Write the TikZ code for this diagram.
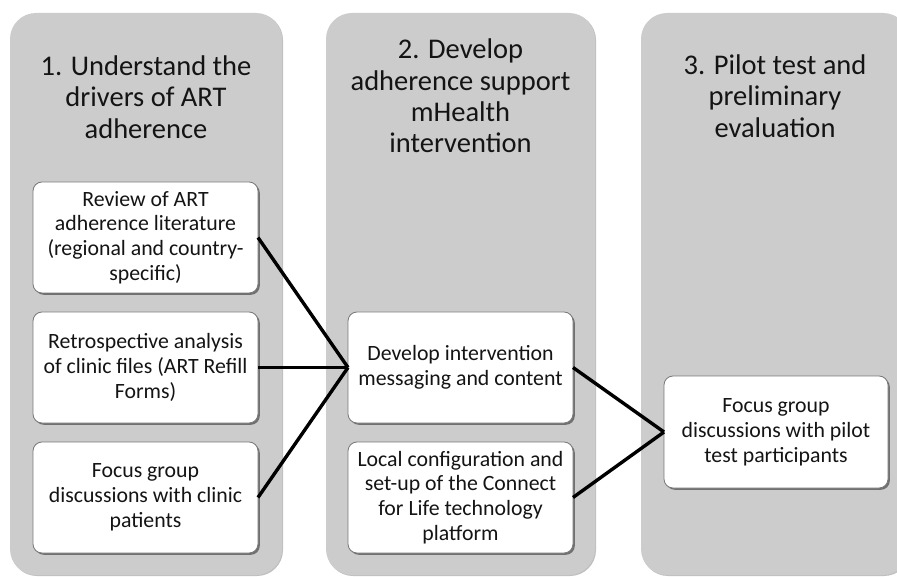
\documentclass[tikz,border=0pt]{standalone}
\usepackage{fontspec}
\setmainfont{Carlito}
\usetikzlibrary{shadows}
\definecolor{colgray}{RGB}{204,204,204}
\definecolor{boxline}{RGB}{120,120,120}
\definecolor{txt}{RGB}{20,20,20}
\begin{document}
\begin{tikzpicture}[x=1pt,y=-1pt,
  colbox/.style={fill=colgray, rounded corners=26pt, inner sep=0pt, outer sep=0pt,
    minimum height=562pt, drop shadow={shadow xshift=1pt, shadow yshift=-1pt, opacity=0.25, fill=black}},
  head/.style={align=center, text=txt, font=\fontsize{28.5}{31.3}\selectfont, inner sep=0pt},
  stepbox/.style={draw=boxline, line width=0.8pt, fill=white, rounded corners=9pt,
    minimum width=225pt, minimum height=111pt, inner sep=0pt, outer sep=0pt,
    align=center, text=txt, font=\fontsize{21.8}{24.8}\selectfont,
    drop shadow={shadow xshift=1.8pt, shadow yshift=-1.8pt, opacity=0.45, fill=black}},
  link/.style={line width=3.4pt, black}]
\useasboundingbox (0,0) rectangle (897,577);
\clip (0,0) rectangle (897,577);
% columns
\node[colbox, minimum width=272pt] (c1) at (146,294) {};
\node[colbox, minimum width=269pt] (c2) at (460.5,294) {};
\node[colbox, minimum width=268pt] (c3) at (775,294) {};
% headers
\node[head] (h1) at (146,97) {1. Understand the\\drivers of ART\\adherence};
\node[head] (h2) at (460.5,96) {2. Develop\\adherence support\\mHealth\\intervention};
\node[head] (h3) at (775,96) {3. Pilot test and\\preliminary\\evaluation};
% boxes
\node[stepbox] (b1) at (145.5,237.5) {Review of ART\\adherence literature\\(regional and country-\\specific)};
\node[stepbox] (b2) at (145.5,367.5) {Retrospective analysis\\of clinic files (ART Refill\\Forms)};
\node[stepbox] (b3) at (145.5,497.5) {Focus group\\discussions with clinic\\patients};
\node[stepbox] (bA) at (460.5,367.5) {Develop intervention\\messaging and content};
\node[stepbox] (bB) at (460.5,497.5) {Local configuration and\\set-up of the Connect\\for Life technology\\platform};
\node[stepbox, minimum width=224pt, minimum height=112pt] (bC) at (776,432) {Focus group\\discussions with pilot\\test participants};
% connectors
\draw[link] (b1.east) -- (bA.west);
\draw[link] (b2.east) -- (bA.west);
\draw[link] (b3.east) -- (bA.west);
\draw[link] (bA.east) -- (bC.west);
\draw[link] (bB.east) -- (bC.west);
\end{tikzpicture}
\end{document}
